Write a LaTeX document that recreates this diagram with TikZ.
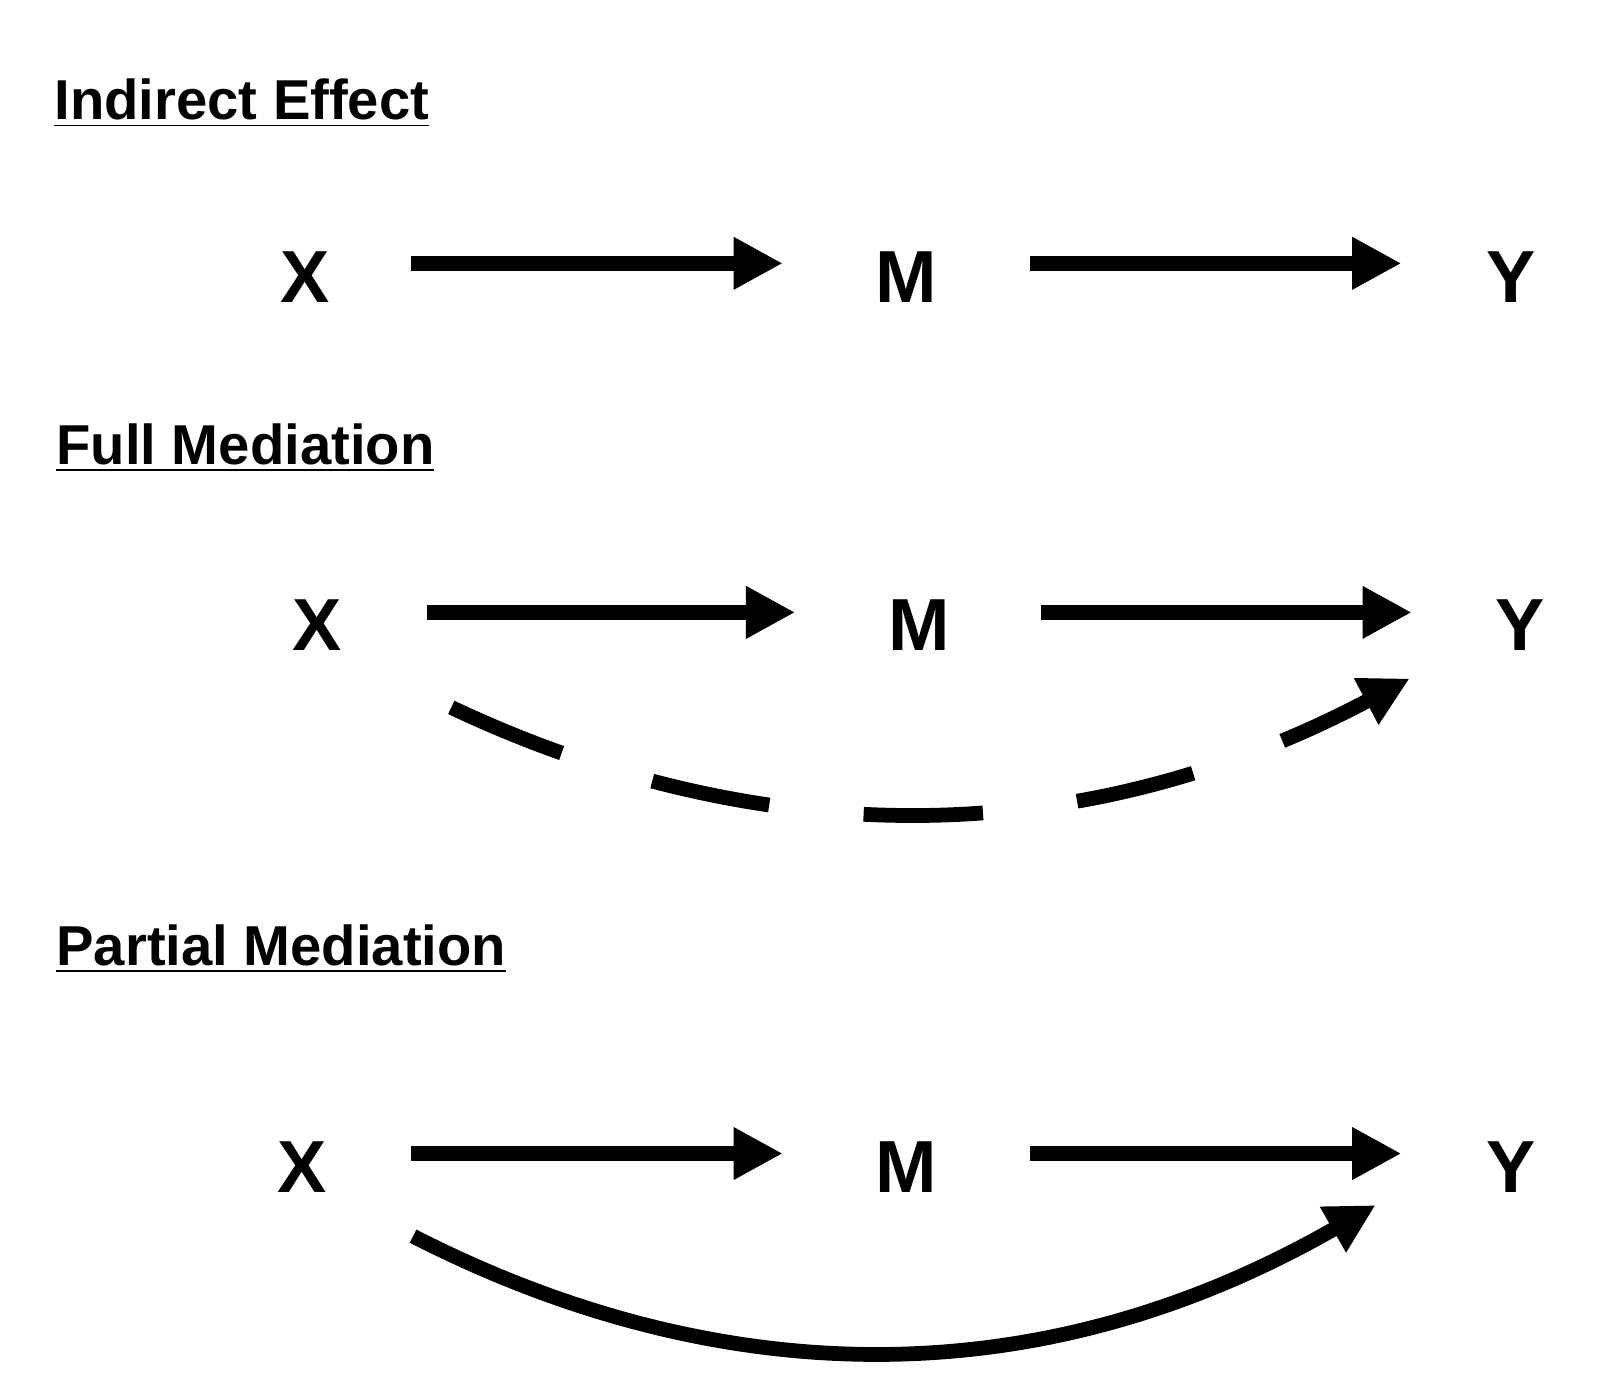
\documentclass[tikz,border=0pt]{standalone}
\usepackage{fontspec}
\setmainfont{Liberation Sans}
\usetikzlibrary{arrows.meta}
\begin{document}
\begin{tikzpicture}[x=0.01033cm,y=-0.01033cm,
  var/.style={font=\bfseries\fontsize{21}{24}\selectfont,inner sep=0pt},
  ttl/.style={font=\bfseries\fontsize{16}{19}\selectfont,anchor=base west,inner sep=0pt},
  arr/.style={line width=4.2pt,-{Triangle[length=14pt,width=14pt]}},
  darr/.style={arr,dash pattern=on 34pt off 27pt}]
\useasboundingbox (0,0) rectangle (1560,1350);
% titles
\node[ttl] (t1) at (52,116) {\underline{Indirect Effect}};
\node[ttl] (t2) at (54,450) {\underline{Full Mediation}};
\node[ttl] (t3) at (54,935) {\underline{Partial Mediation}};
% row 1
\node[var] (x1) at (295,268) {X};
\node[var] (m1) at (878,268) {M};
\node[var] (y1) at (1463,268) {Y};
\coordinate (a1s) at (398,255); \coordinate (a1e) at (758,255);
\coordinate (b1s) at (997,255); \coordinate (b1e) at (1357,255);
\draw[arr] (a1s) -- (a1e);
\draw[arr] (b1s) -- (b1e);
% row 2
\node[var] (x2) at (307,605) {X};
\node[var] (m2) at (890,605) {M};
\node[var] (y2) at (1472,605) {Y};
\coordinate (a2s) at (413,593); \coordinate (a2e) at (770,593);
\coordinate (b2s) at (1008,593); \coordinate (b2e) at (1367,593);
\draw[arr] (a2s) -- (a2e);
\draw[arr] (b2s) -- (b2e);
\coordinate (c2s) at (437,685); \coordinate (c2e) at (1365,657);
\draw[darr] (c2s) .. controls (680,800) and (1000,850) .. (c2e);
% row 3
\node[var] (x3) at (293,1130) {X};
\node[var] (m3) at (878,1130) {M};
\node[var] (y3) at (1463,1130) {Y};
\coordinate (a3s) at (398,1117); \coordinate (a3e) at (758,1117);
\coordinate (b3s) at (997,1117); \coordinate (b3e) at (1357,1117);
\draw[arr] (a3s) -- (a3e);
\draw[arr] (b3s) -- (b3e);
\coordinate (c3s) at (400,1197); \coordinate (c3e) at (1332,1167);
\draw[arr] (c3s) .. controls (640,1320) and (960,1380) .. (c3e);
\end{tikzpicture}
\end{document}
